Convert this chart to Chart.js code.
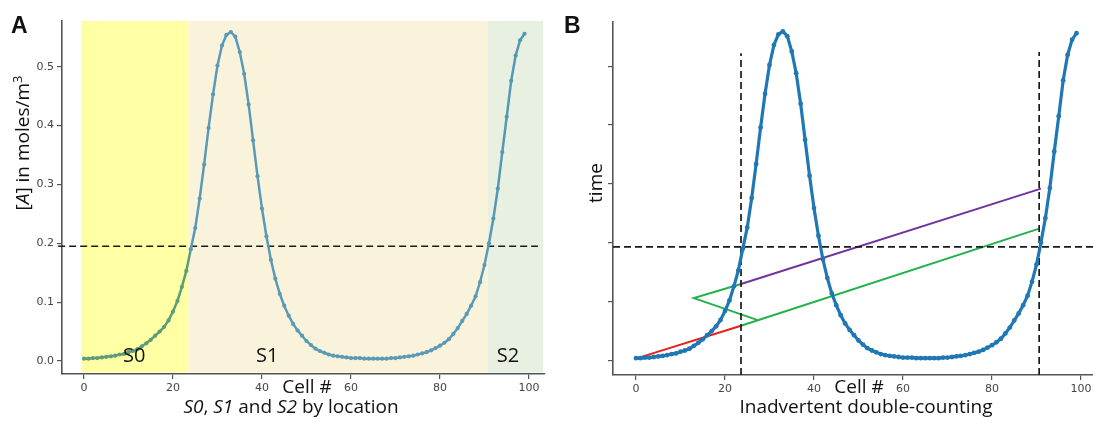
<!DOCTYPE html>
<html><head><meta charset="utf-8">
<script src="https://cdn.jsdelivr.net/npm/chart.js@4.4.1/dist/chart.umd.min.js"></script>
<style>
html,body{margin:0;padding:0;background:#fff;}
#wrap{position:relative;width:1093px;height:430px;overflow:hidden;background:#fff;}
canvas{position:absolute;top:0;}
</style></head><body>
<div id="wrap">
<canvas id="chartA" width="546" height="430" style="left:0px"></canvas>
<canvas id="chartB" width="547" height="430" style="left:546px"></canvas>
</div>
<script>
// ---------- DATA ----------
const cells = [0,1,2,3,4,5,6,7,8,9,10,11,12,13,14,15,16,17,18,19,20,21,22,23,24,25,26,27,28,29,30,31,32,33,34,35,36,37,38,39,40,41,42,43,44,45,46,47,48,49,50,51,52,53,54,55,56,57,58,59,60,61,62,63,64,65,66,67,68,69,70,71,72,73,74,75,76,77,78,79,80,81,82,83,84,85,86,87,88,89,90,91,92,93,94,95,96,97,98,99];
const concentration = [
 0.004,0.004,0.005,0.005,0.006,0.007,0.008,0.009,0.011,0.012,
 0.015,0.017,0.020,0.025,0.030,0.036,0.043,0.050,0.058,0.069,
 0.084,0.102,0.126,0.153,0.190,0.226,0.276,0.334,0.396,0.453,
 0.502,0.536,0.554,0.559,0.551,0.525,0.488,0.436,0.375,0.314,
 0.259,0.212,0.172,0.140,0.114,0.094,0.077,0.063,0.052,0.043,
 0.034,0.027,0.021,0.017,0.014,0.011,0.009,0.008,0.007,0.006,
 0.005,0.005,0.005,0.004,0.004,0.004,0.004,0.004,0.004,0.005,
 0.005,0.006,0.007,0.008,0.009,0.011,0.013,0.015,0.018,0.022,
 0.026,0.031,0.037,0.046,0.056,0.068,0.080,0.094,0.110,0.134,
 0.163,0.200,0.242,0.293,0.355,0.415,0.476,0.519,0.545,0.556];
const xTicks = [0,20,40,60,80,100];
const xTickLabels = ['0','20','40','60','80','100'];
const yTicks = [0,0.1,0.2,0.3,0.4,0.5];
const yTickLabelsA = ['0.0','0.1','0.2','0.3','0.4','0.5'];
const regionNames = ['S0','S1','S2'];
const regionBounds = [-0.6, 23.5, 90.7, 103.2];
const regionLabelCells = [11.3, 41.2, 95.3];
const thresholdA = 0.195;
const thresholdB = 0.193;
const boundaryCells = [23.6, 90.6];
const boundaryTops = [0.522, 0.524];
const redX = [0.3, 23.6], redY = [0.004, 0.059];
const greenZigX = [27.2, 13.0, 23.6], greenZigY = [0.069, 0.106, 0.130];
const greenX = [23.6, 90.6], greenY = [0.059, 0.224];
const purpleX = [23.6, 91.0], purpleY = [0.130, 0.292];

// ---------- STYLES ----------
const regionFills = ['#ffffa3', '#faf3db', '#e8f0e1'];
const curveColorsA = ['#5e9c7a', '#5b9ab6', '#5598b4'];
const axisColor = '#555';
const tickFont = {family: 'DejaVu Sans', size: 11};
const labelFamily = '"Open Sans", "Noto Sans", sans-serif';

function pts(xs, ys){ return xs.map((x,i)=>({x:x, y:ys[i]})); }
function regionColor(x){
  return x < regionBounds[1] ? curveColorsA[0] : (x < regionBounds[2] ? curveColorsA[1] : curveColorsA[2]);
}
function drawRich(c, parts, cx, by){
  let w = 0;
  parts.forEach(p=>{ c.font = p.font; p.w = c.measureText(p.t).width; w += p.w; });
  let x = cx - w/2;
  c.textAlign = 'left';
  parts.forEach(p=>{ c.font = p.font; c.fillText(p.t, x, by - (p.rise||0)); x += p.w; });
}
function noPad(s){ s.paddingLeft = 0; s.paddingRight = 0; s.paddingTop = 0; s.paddingBottom = 0; }
function xScaleOpts(min, max, h){
  return {
    type:'linear', min:min, max:max,
    afterBuildTicks: s => { s.ticks = xTicks.map(v=>({value:v})); },
    afterFit: s => { s.height = h; noPad(s); },
    ticks:{autoSkip:false, maxRotation:0, font:tickFont, color:'#444', padding:3,
           callback: v => xTickLabels[xTicks.indexOf(v)]},
    grid:{display:true, drawOnChartArea:false, drawTicks:true, tickLength:5, color:axisColor, lineWidth:1.2},
    border:{display:true, color:axisColor, width:1.6}
  };
}
function yScaleOpts(min, max, width, labels){
  return {
    type:'linear', min:min, max:max,
    afterBuildTicks: s => { s.ticks = yTicks.map(v=>({value:v})); },
    afterFit: s => { s.width = width; noPad(s); },
    ticks:{autoSkip:false, font:tickFont, color:'#444', padding:3,
           callback: (v) => labels ? labels[yTicks.indexOf(v)] : ''},
    grid:{display:true, drawOnChartArea:false, drawTicks:true, tickLength:5, color:axisColor, lineWidth:1.2},
    border:{display:true, color:axisColor, width:1.6}
  };
}

// ---------- PANEL A ----------
const shadePlugin = {
  id:'shade',
  beforeDatasetsDraw(chart){
    const c = chart.ctx, xs = chart.scales.x, a = chart.chartArea;
    c.save();
    for (let i=0;i<regionFills.length;i++){
      const x0 = xs.getPixelForValue(regionBounds[i]);
      const x1 = xs.getPixelForValue(regionBounds[i+1]);
      c.fillStyle = regionFills[i];
      c.fillRect(x0, a.top, x1-x0, a.bottom - a.top - 1.5);
    }
    c.restore();
  }
};
const textA = {
  id:'textA',
  afterDraw(chart){
    const c = chart.ctx, xs = chart.scales.x;
    c.save();
    c.fillStyle = '#111';
    c.textBaseline = 'alphabetic';
    c.font = 'bold 23px "Liberation Sans", Arial, sans-serif';
    c.textAlign = 'left';
    c.fillText('A', 11, 33);
    c.font = '20px ' + labelFamily;
    c.textAlign = 'center';
    regionNames.forEach((n,i)=>{ c.fillText(n, xs.getPixelForValue(regionLabelCells[i]), 362); });
    c.font = '19px ' + labelFamily;
    c.fillText('Cell #', 307, 393);
    const n = '19px ' + labelFamily, it = 'italic 19px ' + labelFamily;
    drawRich(c, [{t:'S0',font:it},{t:', ',font:n},{t:'S1',font:it},{t:' and ',font:n},{t:'S2',font:it},{t:' by location',font:n}], 291, 413);
    c.translate(29, 143);
    c.rotate(-Math.PI/2);
    drawRich(c, [{t:'[',font:n},{t:'A',font:it},{t:'] in moles/m',font:n},{t:'3',font:'13px ' + labelFamily, rise:7}], 0, 0);
    c.restore();
  }
};
new Chart(document.getElementById('chartA'), {
  type:'line',
  data:{datasets:[
    {data: pts(cells, concentration), borderColor: curveColorsA[1], borderWidth:2.5, tension:0,
     pointRadius:2.1, pointBorderWidth:0,
     pointBackgroundColor: ctx => regionColor(ctx.parsed ? ctx.parsed.x : 0),
     segment:{borderColor: ctx => regionColor(ctx.p0.parsed.x)}},
    {data: pts([-5.8, 102], [thresholdA, thresholdA]), borderColor:'#1a1a1a', borderWidth:1.7,
     borderDash:[7,4], pointRadius:0, clip:false}
  ]},
  options:{
    responsive:false, animation:false, devicePixelRatio:1,
    layout:{autoPadding:false, padding:{top:21, right:1, left:0, bottom:0}},
    plugins:{legend:{display:false}, tooltip:{enabled:false}},
    scales:{ x: xScaleOpts(-4.94, 103.6, 56), y: yScaleOpts(-0.0221, 0.5777, 62, yTickLabelsA) }
  },
  plugins:[shadePlugin, textA]
});

// ---------- PANEL B ----------
const textB = {
  id:'textB',
  afterDraw(chart){
    const c = chart.ctx;
    c.save();
    c.fillStyle = '#111';
    c.textBaseline = 'alphabetic';
    c.font = 'bold 23px "Liberation Sans", Arial, sans-serif';
    c.textAlign = 'left';
    c.fillText('B', 18, 33);
    c.font = '19px ' + labelFamily;
    c.textAlign = 'center';
    c.fillText('Cell #', 313, 393);
    c.fillText('Inadvertent double-counting', 320, 413);
    c.translate(56, 183);
    c.rotate(-Math.PI/2);
    c.fillText('time', 0, 0);
    c.restore();
  }
};
const dashB = {borderColor:'#1a1a1a', borderWidth:1.7, borderDash:[7,4], pointRadius:0, clip:false};
new Chart(document.getElementById('chartB'), {
  type:'line',
  data:{datasets:[
    {data: pts(cells, concentration), borderColor:'#1f77b4', borderWidth:3.2, tension:0,
     pointRadius:2.4, pointBorderWidth:0, pointBackgroundColor:'#1f77b4'},
    Object.assign({data: pts([-5.17, 102.7], [thresholdB, thresholdB])}, dashB),
    Object.assign({data: pts([boundaryCells[0], boundaryCells[0]], [-0.0246, boundaryTops[0]])}, dashB),
    Object.assign({data: pts([boundaryCells[1], boundaryCells[1]], [-0.0246, boundaryTops[1]])}, dashB),
    {data: pts(redX, redY), borderColor:'#e8201c', borderWidth:2, pointRadius:0},
    {data: pts(greenZigX, greenZigY), borderColor:'#22b14c', borderWidth:2, pointRadius:0},
    {data: pts(greenX, greenY), borderColor:'#22b14c', borderWidth:2, pointRadius:0},
    {data: pts(purpleX, purpleY), borderColor:'#7232a0', borderWidth:2, pointRadius:0}
  ]},
  options:{
    responsive:false, animation:false, devicePixelRatio:1,
    layout:{autoPadding:false, padding:{top:22, right:0, left:0, bottom:0}},
    plugins:{legend:{display:false}, tooltip:{enabled:false}},
    scales:{ x: xScaleOpts(-5.17, 102.7, 55), y: yScaleOpts(-0.0246, 0.575, 67, null) }
  },
  plugins:[textB]
});
</script>
</body></html>
